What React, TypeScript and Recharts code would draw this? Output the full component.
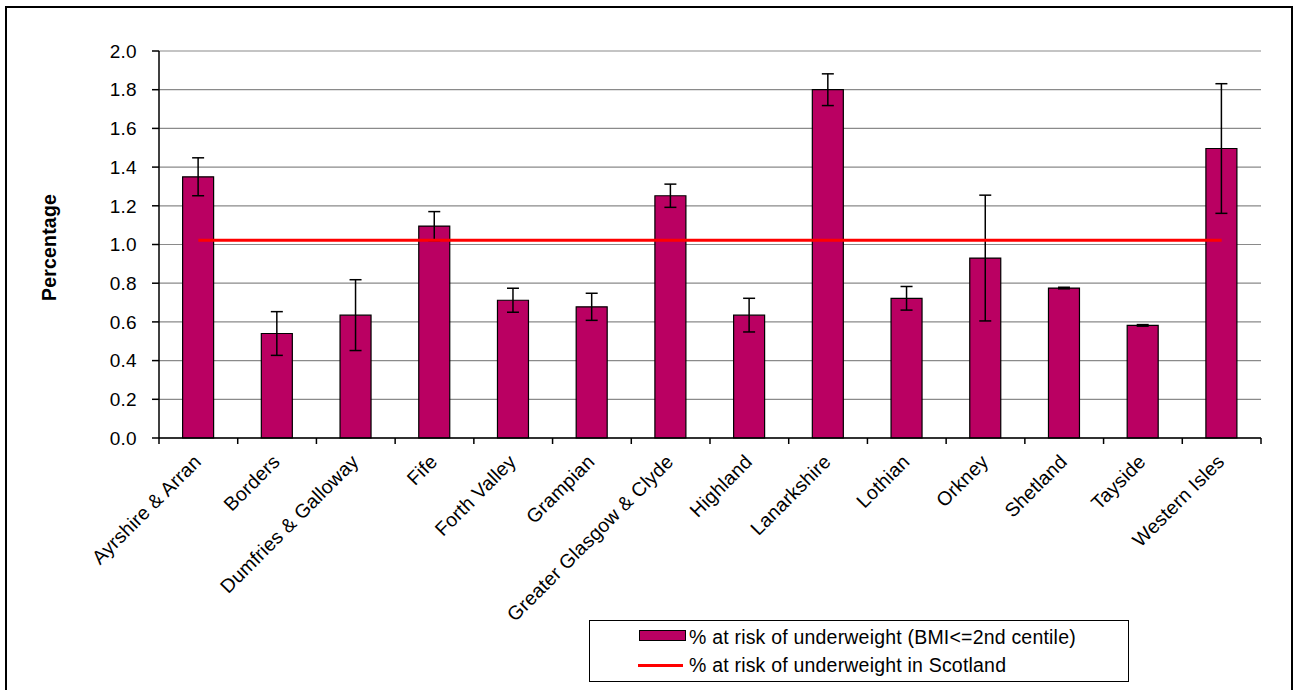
import React from 'react';
import { ComposedChart, Bar, Line, XAxis, YAxis, CartesianGrid, ErrorBar, Label } from 'recharts';

const categories = [
  'Ayrshire & Arran', 'Borders', 'Dumfries & Galloway', 'Fife', 'Forth Valley', 'Grampian',
  'Greater Glasgow & Clyde', 'Highland', 'Lanarkshire', 'Lothian', 'Orkney', 'Shetland', 'Tayside', 'Western Isles',
];
const underweightPct = [1.35, 0.54, 0.635, 1.095, 0.712, 0.678, 1.252, 0.635, 1.8, 0.722, 0.93, 0.775, 0.582, 1.496];
const errorPct = [0.098, 0.113, 0.183, 0.075, 0.062, 0.07, 0.06, 0.087, 0.082, 0.061, 0.325, 0.004, 0.004, 0.335];
const scotlandPct = 1.022;
const yTicks = [0, 0.2, 0.4, 0.6, 0.8, 1.0, 1.2, 1.4, 1.6, 1.8, 2.0];
const seriesNames = ['% at risk of underweight (BMI<=2nd centile)', '% at risk of underweight in Scotland'];

const data = categories.map((name, i) => ({
  name,
  value: underweightPct[i],
  err: errorPct[i],
  scotland: scotlandPct,
}));

const W = 1295;
const H = 690;
const PLOT_LEFT = 159;
const PLOT_RIGHT = 1261;
const BAND = (PLOT_RIGHT - PLOT_LEFT) / categories.length;
const FONT = '"Liberation Sans", Arial, sans-serif';
const BAR_COLOR = '#BA0062';

const XTick = (props: any) => {
  const { x, y, payload, index } = props;
  const ax = x + 4;
  const ay = y + 25;
  return (
    <g>
      <line x1={x - BAND / 2} x2={x - BAND / 2} y1={y} y2={y + 6} stroke="#000" strokeWidth={1.5} />
      {index === categories.length - 1 && (
        <line x1={x + BAND / 2} x2={x + BAND / 2} y1={y} y2={y + 6} stroke="#000" strokeWidth={1.5} />
      )}
      <text
        x={ax}
        y={ay}
        textAnchor="end"
        transform={`rotate(-45 ${ax} ${ay})`}
        fontFamily={FONT}
        fontSize={19.5}
        letterSpacing={0.2}
        fill="#000"
      >
        {payload.value}
      </text>
    </g>
  );
};

const YLabel = (props: any) => {
  const { viewBox } = props;
  const cx = viewBox.x + 49;
  const cy = viewBox.y + viewBox.height / 2 + 3;
  return (
    <text
      x={cx}
      y={cy}
      textAnchor="middle"
      dominantBaseline="central"
      transform={`rotate(-90 ${cx} ${cy})`}
      fontFamily={FONT}
      fontSize={19.5}
      fontWeight="bold"
      letterSpacing={0.2}
      fill="#000"
    >
      Percentage
    </text>
  );
};

export default function App() {
  return (
    <div style={{ position: 'absolute', left: 0, top: 0, width: W, height: H, overflow: 'hidden', background: '#fff' }}>
      <div
        style={{
          position: 'absolute', left: 5, top: 6, width: 1288, height: 720,
          border: '2px solid #000', boxSizing: 'border-box',
        }}
      />
      <div style={{ position: 'absolute', left: 0, top: 0 }}>
        <ComposedChart
          width={W}
          height={H}
          data={data}
          margin={{ top: 51, right: 34, bottom: 92, left: 0 }}
          barCategoryGap="30%"
        >
          <CartesianGrid vertical={false} stroke="#8a8a8a" strokeWidth={1.2} />
          <XAxis
            dataKey="name"
            interval={0}
            height={160}
            tickLine={false}
            tickSize={0}
            tickMargin={0}
            axisLine={{ stroke: '#000', strokeWidth: 1.5 }}
            tick={<XTick />}
          />
          <YAxis
            width={159}
            domain={[0, 2]}
            ticks={yTicks}
            tickFormatter={(v: number) => v.toFixed(1)}
            tickSize={7}
            tickMargin={15}
            axisLine={{ stroke: '#000', strokeWidth: 1.5 }}
            tickLine={{ stroke: '#000', strokeWidth: 1.5 }}
            tick={{ fontFamily: FONT, fontSize: 19, fill: '#000', letterSpacing: 0.3 }}
          >
            <Label content={<YLabel />} />
          </YAxis>
          <YAxis
            yAxisId="r"
            orientation="right"
            width={0}
            domain={[0, 2]}
            tick={false}
            tickLine={false}
            axisLine={{ stroke: '#8a8a8a', strokeWidth: 1.5 }}
          />
          <Bar dataKey="value" fill={BAR_COLOR} stroke="#000" strokeWidth={1.2} isAnimationActive={false}>
            <ErrorBar dataKey="err" width={6} stroke="#000" strokeWidth={1.5} direction="y" />
          </Bar>
          <Line
            dataKey="scotland"
            stroke="#FF0000"
            strokeWidth={3}
            dot={false}
            activeDot={false}
            isAnimationActive={false}
          />
        </ComposedChart>
      </div>
      <div
        style={{
          position: 'absolute', left: 589, top: 620, width: 540, height: 62,
          border: '1.5px solid #000', boxSizing: 'border-box', background: '#fff',
          fontFamily: FONT, fontSize: 19.5, letterSpacing: 0.2, color: '#000',
        }}
      >
        <div
          style={{
            position: 'absolute', left: 49, top: 9, width: 47, height: 11,
            background: BAR_COLOR, border: '1.5px solid #000', boxSizing: 'border-box',
          }}
        />
        <div style={{ position: 'absolute', left: 99, top: 5, lineHeight: '22px', whiteSpace: 'nowrap' }}>
          {seriesNames[0]}
        </div>
        <div style={{ position: 'absolute', left: 48, top: 42.5, width: 45, height: 3, background: '#FF0000' }} />
        <div style={{ position: 'absolute', left: 99, top: 33, lineHeight: '22px', whiteSpace: 'nowrap' }}>
          {seriesNames[1]}
        </div>
      </div>
    </div>
  );
}
